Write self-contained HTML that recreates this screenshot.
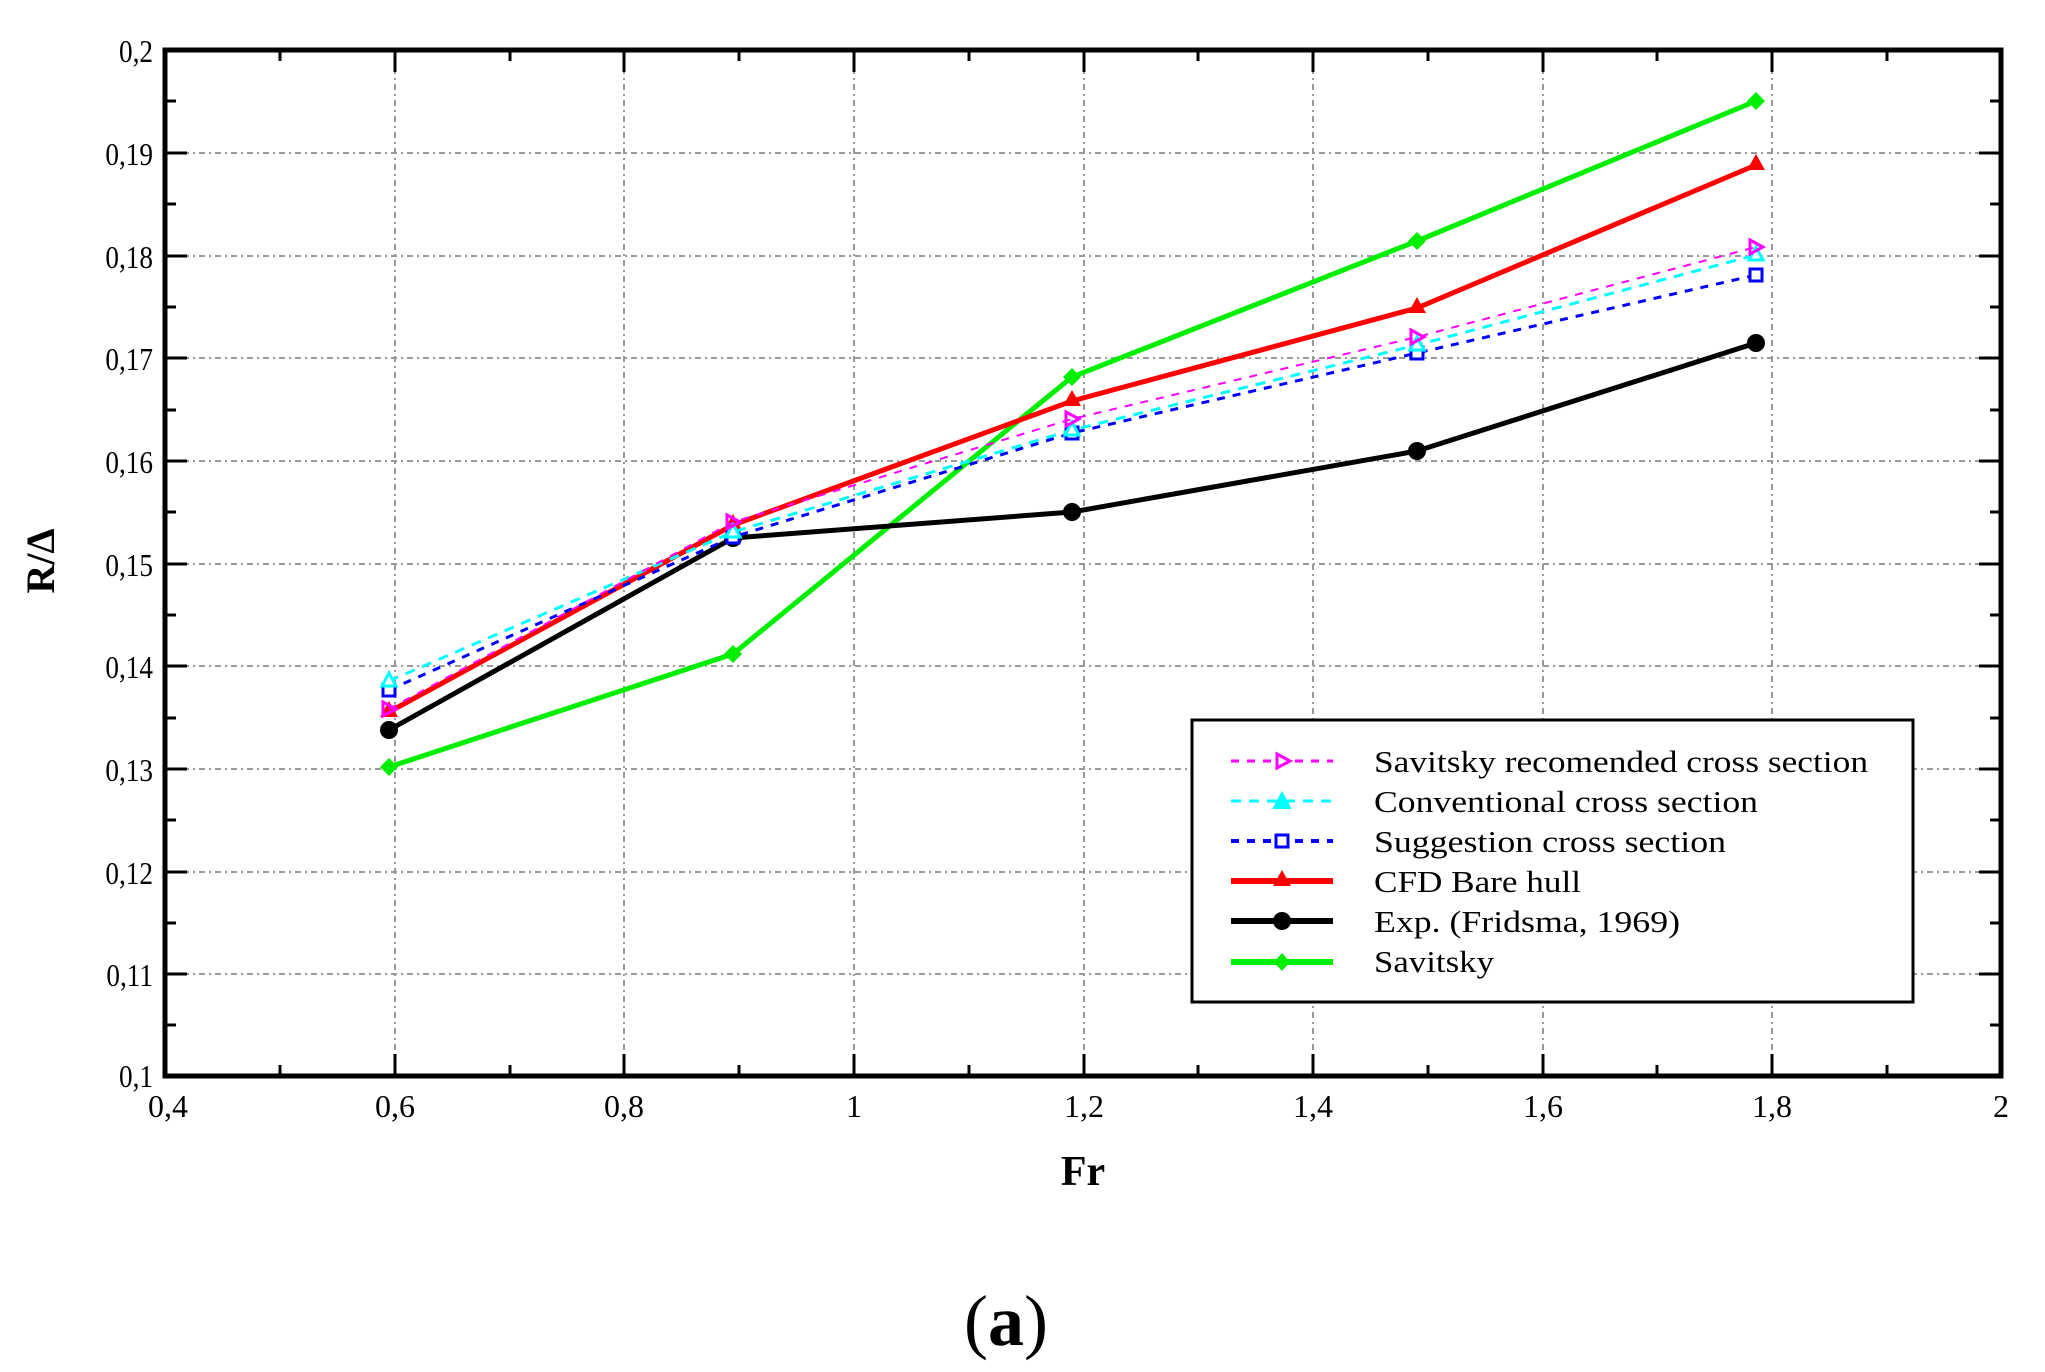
<!DOCTYPE html>
<html><head><meta charset="utf-8"><style>html,body{margin:0;padding:0;background:#fff}svg{display:block}</style></head>
<body>
<svg width="2045" height="1372" viewBox="0 0 2045 1372" xmlns="http://www.w3.org/2000/svg" font-family="'Liberation Serif', serif">
<rect width="2045" height="1372" fill="#fff"/>
<!-- grid -->
<g stroke="#999" stroke-width="2" stroke-dasharray="6,4,2,4">
<line x1="395" y1="52" x2="395" y2="1075"/><line x1="624" y1="52" x2="624" y2="1075"/><line x1="854" y1="52" x2="854" y2="1075"/><line x1="1084" y1="52" x2="1084" y2="1075"/><line x1="1313" y1="52" x2="1313" y2="1075"/><line x1="1543" y1="52" x2="1543" y2="1075"/><line x1="1772" y1="52" x2="1772" y2="1075"/>
<line x1="167" y1="153" x2="2000" y2="153"/><line x1="167" y1="256" x2="2000" y2="256"/><line x1="167" y1="358" x2="2000" y2="358"/><line x1="167" y1="461" x2="2000" y2="461"/><line x1="167" y1="564" x2="2000" y2="564"/><line x1="167" y1="666" x2="2000" y2="666"/><line x1="167" y1="769" x2="2000" y2="769"/><line x1="167" y1="872" x2="2000" y2="872"/><line x1="167" y1="974" x2="2000" y2="974"/>
</g>
<!-- ticks -->
<g stroke="#000" stroke-width="3">
<path d="M395 1076v-22M624 1076v-22M854 1076v-22M1084 1076v-22M1313 1076v-22M1543 1076v-22M1772 1076v-22M280 1076v-11M510 1076v-11M739 1076v-11M969 1076v-11M1198 1076v-11M1428 1076v-11M1657 1076v-11M1887 1076v-11"/>
<path d="M395 50v22M624 50v22M854 50v22M1084 50v22M1313 50v22M1543 50v22M1772 50v22M280 50v11M510 50v11M739 50v11M969 50v11M1198 50v11M1428 50v11M1657 50v11M1887 50v11"/>
<path d="M165 153h22M165 256h22M165 358h22M165 461h22M165 564h22M165 666h22M165 769h22M165 872h22M165 974h22M165 101h11M165 204h11M165 307h11M165 410h11M165 512h11M165 615h11M165 718h11M165 820h11M165 923h11M165 1025h11"/>
<path d="M2001 153h-22M2001 256h-22M2001 358h-22M2001 461h-22M2001 564h-22M2001 666h-22M2001 769h-22M2001 872h-22M2001 974h-22M2001 101h-11M2001 204h-11M2001 307h-11M2001 410h-11M2001 512h-11M2001 615h-11M2001 718h-11M2001 820h-11M2001 923h-11M2001 1025h-11"/>
</g>
<rect x="165" y="50" width="1836" height="1026" fill="none" stroke="#000" stroke-width="5"/>
<!-- y tick labels -->
<g font-size="32" text-anchor="end" transform="scale(0.85,1)">
<text x="180" y="62">0,2</text><text x="180" y="165">0,19</text><text x="180" y="268">0,18</text><text x="180" y="370">0,17</text><text x="180" y="473">0,16</text><text x="180" y="576">0,15</text><text x="180" y="678">0,14</text><text x="180" y="781">0,13</text><text x="180" y="884">0,12</text><text x="180" y="986">0,11</text><text x="180" y="1087">0,1</text>
</g>
<g font-size="32" text-anchor="middle">
<text x="168" y="1117">0,4</text><text x="395" y="1117">0,6</text><text x="624" y="1117">0,8</text><text x="854" y="1117">1</text><text x="1084" y="1117">1,2</text><text x="1313" y="1117">1,4</text><text x="1543" y="1117">1,6</text><text x="1772" y="1117">1,8</text><text x="2001" y="1117">2</text>
</g>
<text x="1083" y="1185" font-size="42" font-weight="bold" text-anchor="middle">Fr</text>
<text transform="translate(54,561) rotate(-90)" font-size="40" font-weight="bold" text-anchor="middle">R/Δ</text>
<text x="1006" y="1345" font-size="72" text-anchor="middle">(<tspan font-weight="bold">a</tspan>)</text>
<!-- series -->
<!-- Savitsky green -->
<polyline points="389,767 733,654 1072,377 1417,241 1756,101" fill="none" stroke="#00ee00" stroke-width="5"/>
<g fill="#00ee00"><path d="M389 758l9 9-9 9-9-9z"/><path d="M733 645l9 9-9 9-9-9z"/><path d="M1072 368l9 9-9 9-9-9z"/><path d="M1417 232l9 9-9 9-9-9z"/><path d="M1756 92l9 9-9 9-9-9z"/></g>
<!-- Exp black -->
<polyline points="389,730 733,538 1072,512 1417,451 1756,343" fill="none" stroke="#000" stroke-width="5"/>
<g fill="#000"><circle cx="389" cy="730" r="9"/><circle cx="733" cy="538" r="9"/><circle cx="1072" cy="512" r="9"/><circle cx="1417" cy="451" r="9"/><circle cx="1756" cy="343" r="9"/></g>
<!-- CFD red -->
<polyline points="389,712 733,525 1072,401 1417,308 1756,165" fill="none" stroke="#ff0000" stroke-width="5"/>
<g fill="#ff0000"><path d="M389 701l9 16h-18z"/><path d="M733 514l9 16h-18z"/><path d="M1072 390l9 16h-18z"/><path d="M1417 297l9 16h-18z"/><path d="M1756 154l9 16h-18z"/></g>
<!-- Suggestion blue -->
<polyline points="389,690 733,537 1072,433 1417,353 1756,275" fill="none" stroke="#0000ff" stroke-width="3" stroke-dasharray="8,8"/>
<g fill="#fff" stroke="#0000ff" stroke-width="3"><rect x="383" y="684" width="12" height="12"/><rect x="727" y="531" width="12" height="12"/><rect x="1066" y="427" width="12" height="12"/><rect x="1411" y="347" width="12" height="12"/><rect x="1750" y="269" width="12" height="12"/></g>
<!-- Conventional cyan -->
<polyline points="389,681 733,532 1072,430 1417,345 1756,255" fill="none" stroke="#00ffff" stroke-width="3" stroke-dasharray="10,8"/>
<g fill="#fff" stroke="#00ffff" stroke-width="3"><path d="M389 673l7 13h-14z"/><path d="M733 524l7 13h-14z"/><path d="M1072 422l7 13h-14z"/><path d="M1417 337l7 13h-14z"/><path d="M1756 247l7 13h-14z"/></g>
<!-- Savitsky recommended magenta -->
<polyline points="389,709 733,522 1072,419 1417,337 1756,247" fill="none" stroke="#ff00ff" stroke-width="2" stroke-dasharray="8,8"/>
<g fill="none" stroke="#ff00ff" stroke-width="3"><path d="M383 702l13 7-13 7z"/><path d="M727 515l13 7-13 7z"/><path d="M1066 412l13 7-13 7z"/><path d="M1411 330l13 7-13 7z"/><path d="M1750 240l13 7-13 7z"/></g>
<!-- legend -->
<rect x="1192" y="720" width="721" height="282" fill="#fff" stroke="#000" stroke-width="3"/>
<line x1="1231" y1="761" x2="1333" y2="761" stroke="#ff00ff" stroke-width="3" stroke-dasharray="8,8"/>
<path d="M1277 754l13 7-13 7z" fill="#fff" stroke="#ff00ff" stroke-width="3"/>
<line x1="1231" y1="801" x2="1333" y2="801" stroke="#00ffff" stroke-width="3" stroke-dasharray="10,8"/>
<path d="M1282 793l8 15h-16z" fill="#00ffff" stroke="#00ffff" stroke-width="2"/>
<line x1="1231" y1="841" x2="1333" y2="841" stroke="#0000ff" stroke-width="4" stroke-dasharray="8,8"/>
<rect x="1276" y="835" width="12" height="12" fill="#fff" stroke="#0000ff" stroke-width="3"/>
<line x1="1231" y1="881" x2="1333" y2="881" stroke="#ff0000" stroke-width="6"/>
<path d="M1282 870l9 16h-18z" fill="#ff0000"/>
<line x1="1231" y1="921" x2="1333" y2="921" stroke="#000" stroke-width="6"/>
<circle cx="1282" cy="921" r="9" fill="#000"/>
<line x1="1231" y1="962" x2="1333" y2="962" stroke="#00ee00" stroke-width="6"/>
<path d="M1282 953l8 9-8 9-8-9z" fill="#00ee00"/>
<g font-size="31">
<text x="1374" y="772" textLength="494" lengthAdjust="spacingAndGlyphs">Savitsky recomended cross section</text>
<text x="1374" y="812" textLength="384" lengthAdjust="spacingAndGlyphs">Conventional cross section</text>
<text x="1374" y="852" textLength="352" lengthAdjust="spacingAndGlyphs">Suggestion cross section</text>
<text x="1374" y="892" textLength="207" lengthAdjust="spacingAndGlyphs">CFD Bare hull</text>
<text x="1374" y="932" textLength="306" lengthAdjust="spacingAndGlyphs">Exp. (Fridsma, 1969)</text>
<text x="1374" y="972" textLength="120" lengthAdjust="spacingAndGlyphs">Savitsky</text>
</g>
</svg>
</body></html>
